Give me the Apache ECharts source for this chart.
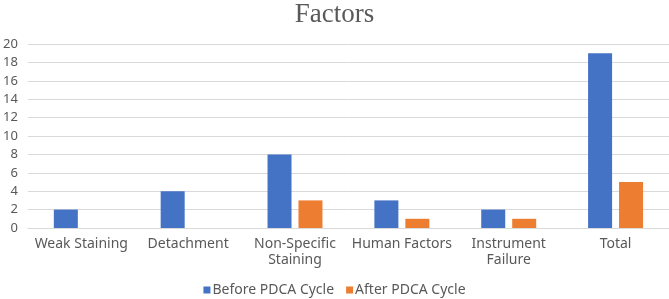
<!DOCTYPE html>
<html>
<head>
<meta charset="utf-8">
<script src="https://cdn.jsdelivr.net/npm/echarts@6/dist/echarts.min.js"></script>
<style>
  html, body { margin: 0; padding: 0; background: #fff; }
  #main { width: 669px; height: 299px; }
</style>
</head>
<body>
<div id="main"></div>
<script>
var categories = ['Weak Staining', 'Detachment', 'Non-Specific\nStaining', 'Human Factors', 'Instrument\nFailure', 'Total'];
var beforeValues = [2, 4, 8, 3, 2, 19];
var afterValues = [0, 0, 3, 1, 1, 5];
var seriesNames = ['Before PDCA Cycle', 'After PDCA Cycle'];

var chart = echarts.init(document.getElementById('main'));
var labelFont = 'Noto Sans';
var option = {
    animation: false,
    title: {
        text: 'Factors',
        left: 'center',
        top: -4,
        textStyle: {
            fontFamily: 'Liberation Serif',
            fontSize: 27,
            fontWeight: 'normal',
            color: '#595959'
        }
    },
    legend: {
        data: seriesNames,
        top: 278,
        left: 'center',
        itemWidth: 7,
        itemHeight: 7,
        itemGap: 12,
        icon: 'rect',
        textStyle: {
            fontFamily: labelFont,
            fontSize: 14,
            color: '#595959',
            padding: [0, 0, 0, -3]
        }
    },
    grid: {
        left: 27,
        right: 0,
        top: 44,
        bottom: 71
    },
    xAxis: {
        type: 'category',
        data: categories,
        axisLine: { lineStyle: { color: '#d9d9d9' } },
        axisTick: { show: false },
        axisLabel: {
            interval: 0,
            margin: 8,
            lineHeight: 16,
            fontFamily: labelFont,
            fontSize: 14,
            color: '#595959'
        }
    },
    yAxis: {
        type: 'value',
        min: 0,
        max: 20,
        interval: 2,
        axisLine: { show: false },
        axisTick: { show: false },
        splitLine: { lineStyle: { color: '#d9d9d9' } },
        axisLabel: {
            margin: 10,
            fontFamily: labelFont,
            fontSize: 13,
            color: '#595959'
        }
    },
    series: [{
        name: seriesNames[0],
        type: 'bar',
        data: beforeValues,
        barWidth: 24,
        barGap: '29%',
        itemStyle: { color: '#4472C4' }
    }, {
        name: seriesNames[1],
        type: 'bar',
        data: afterValues,
        barWidth: 24,
        itemStyle: { color: '#ED7D31' }
    }]
};
chart.setOption(option);
</script>
</body>
</html>
